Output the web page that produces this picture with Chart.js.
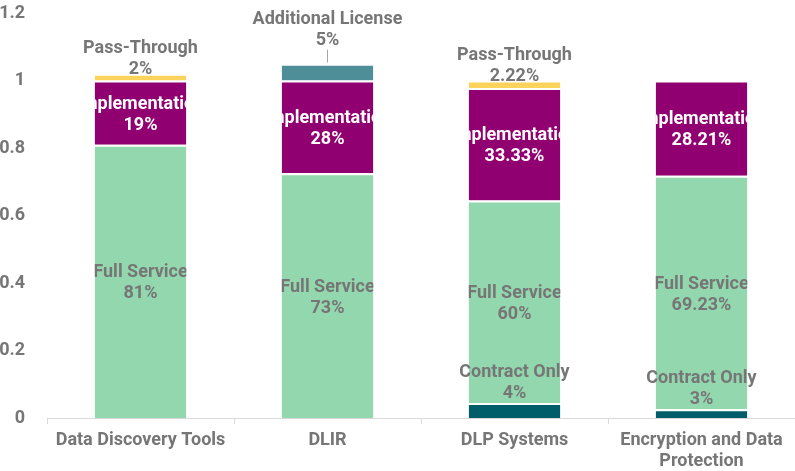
<!DOCTYPE html>
<html>
<head>
<meta charset="utf-8">
<script src="https://cdn.jsdelivr.net/npm/chart.js@4.4.1/dist/chart.umd.min.js"></script>
<style>
  html, body { margin: 0; padding: 0; background: #fff; }
  #wrap { width: 795px; height: 471px; position: relative; }
</style>
</head>
<body>
<div id="wrap"><canvas id="chart"></canvas></div>
<script>
// categories
const categories = [
  "Data Discovery Tools",
  "DLIR",
  "DLP Systems",
  ["Encryption and Data", "Protection"]
];

// series values (shares)
const contractOnly   = [0,    0,     0.0444, 0.0256];
const fullService    = [0.81, 0.725, 0.60,   0.6923];
const implementation = [0.19, 0.275, 0.3333, 0.2821];
const addLicense     = [0,    0.05,  0,      0];
const passThrough    = [0.02, 0,     0.0222, 0];

// label text as printed
const contractTxt = ["", "", "4%", "3%"];
const fullTxt     = ["81%", "73%", "60%", "69.23%"];
const implTxt     = ["19%", "28%", "33.33%", "28.21%"];
const addTxt      = ["", "5%", "", ""];
const passTxt     = ["2%", "", "2.22%", ""];

// y ticks
const yTicks = [0, 0.2, 0.4, 0.6, 0.8, 1, 1.2];

// colours
const COL_CONTRACT = "#005d6a";
const COL_FULL     = "#93d7ae";
const COL_IMPL     = "#910070";
const COL_ADD      = "#4e8e99";
const COL_PASS     = "#fdd35b";
const COL_TEXT     = "#767676";

const FONT = "Roboto";

// draws labels on/above the segments
const segLabels = {
  id: "segLabels",
  afterDatasetsDraw(chart) {
    const ctx = chart.ctx;
    chart.data.datasets.forEach((ds, i) => {
      const meta = chart.getDatasetMeta(i);
      meta.data.forEach((bar, j) => {
        if (!ds.data[j]) return;
        const lines = [ds.label, ds.txt[j]];
        const lh = 21;
        ctx.save();
        ctx.font = "bold 18px " + FONT;
        ctx.textAlign = "center";
        ctx.textBaseline = "middle";
        ctx.fillStyle = ds.txtColor;
        const x = bar.x;
        if (ds.pos === "inside") {
          // text is clipped to the bar, like the original
          const left = bar.x - bar.width / 2;
          ctx.beginPath();
          ctx.rect(left, bar.y, bar.width, bar.base - bar.y);
          ctx.clip();
          const cy = (bar.y + bar.base) / 2 + 2;
          ctx.fillText(lines[0], x, cy - lh / 2);
          ctx.fillText(lines[1], x, cy + lh / 2);
        } else {
          let bottom = bar.y - ds.gap;
          if (ds.pos === "leader") {
            ctx.strokeStyle = "#a6a6a6";
            ctx.lineWidth = 1;
            ctx.beginPath();
            ctx.moveTo(x, bar.y - 1);
            ctx.lineTo(x, bar.y - 14);
            ctx.stroke();
          }
          ctx.fillText(lines[1], x, bottom);
          ctx.fillText(lines[0], x, bottom - lh);
        }
        ctx.restore();
      });
    });
  }
};

function seg(label, data, color, txt, pos, txtColor, gap) {
  return {
    label: label,
    data: data,
    backgroundColor: color,
    borderColor: "#ffffff",
    borderWidth: { top: 2, bottom: 0, left: 0, right: 0 },
    borderSkipped: false,
    txt: txt,
    pos: pos,
    txtColor: txtColor,
    gap: gap || 0
  };
}

new Chart(document.getElementById("chart").getContext("2d"), {
  type: "bar",
  data: {
    labels: categories,
    datasets: [
      seg("Contract Only", contractOnly, COL_CONTRACT, contractTxt, "above", COL_TEXT, 10),
      seg("Full Service", fullService, COL_FULL, fullTxt, "inside", COL_TEXT),
      seg("Implementation", implementation, COL_IMPL, implTxt, "inside", "#ffffff"),
      seg("Additional License", addLicense, COL_ADD, addTxt, "leader", COL_TEXT, 23),
      seg("Pass-Through", passThrough, COL_PASS, passTxt, "above", COL_TEXT, 4)
    ]
  },
  options: {
    responsive: true,
    maintainAspectRatio: false,
    animation: false,
    layout: { padding: { top: 13, left: 0, right: 0, bottom: 0 } },
    categoryPercentage: 1,
    barPercentage: 0.49,
    plugins: {
      legend: { display: false },
      tooltip: { enabled: false }
    },
    scales: {
      x: {
        stacked: true,
        grid: { drawOnChartArea: false, drawTicks: true, tickLength: 6, color: "#d9d9d9", offset: true },
        border: { display: true, color: "#d9d9d9", width: 1 },
        ticks: {
          color: COL_TEXT,
          font: { family: FONT, size: 18, weight: "bold", lineHeight: 1.15 },
          padding: 6,
          maxRotation: 0,
          autoSkip: false
        },
        afterFit: s => { s.height = 53; s.paddingLeft = 0; s.paddingRight = 0; }
      },
      y: {
        stacked: true,
        min: 0,
        max: 1.2,
        grid: { display: false },
        border: { display: false },
        afterBuildTicks: s => { s.ticks = yTicks.map(v => ({ value: v })); },
        ticks: {
          color: COL_TEXT,
          font: { family: FONT, size: 18, weight: "bold" },
          padding: 14,
          callback: v => String(+v.toFixed(1))
        },
        afterFit: s => { s.width = 47; s.paddingTop = 0; s.paddingBottom = 0; }
      }
    }
  },
  plugins: [segLabels]
});
</script>
</body>
</html>
